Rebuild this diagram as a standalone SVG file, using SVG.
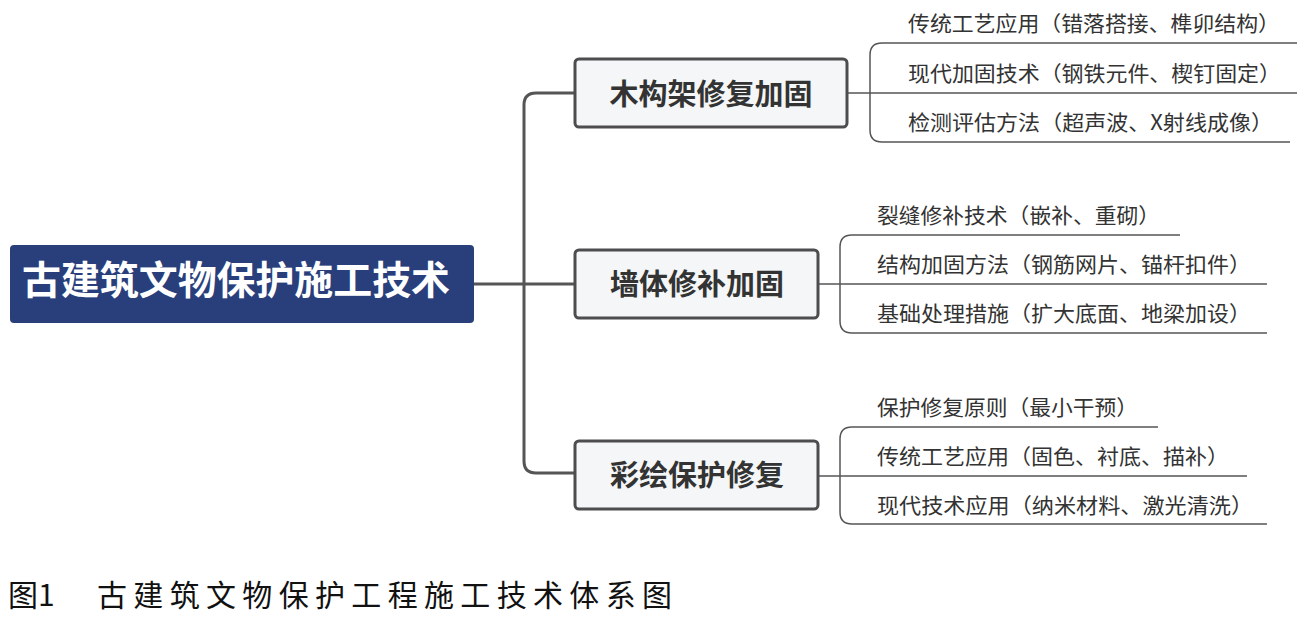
<svg xmlns="http://www.w3.org/2000/svg" width="1305" height="618" viewBox="0 0 1305 618">
<style>
.root{fill:#293f7c;}
.rootT{font-family:"Noto Sans CJK SC",sans-serif;font-weight:bold;font-size:39px;fill:#fff;text-anchor:middle;}
.box{fill:#f4f6f7;stroke:#4d4d4f;stroke-width:3;}
.boxT{font-family:"Noto Sans CJK SC",sans-serif;font-weight:bold;font-size:29px;fill:#333;text-anchor:middle;}
.leaf{font-family:"Noto Sans CJK SC",sans-serif;font-size:21px;fill:#333;}
.thick{fill:none;stroke:#555;stroke-width:3;}
.thin{fill:none;stroke:#555;stroke-width:1.5;}
.cap{font-family:"Noto Sans CJK SC",serif;font-size:30px;fill:#111;}
</style>
<rect width="1305" height="618" fill="#fff"/>
<g id="connectors">
<path class="thick" d="M474,284 H575"/>
<path class="thick" d="M575,93 H536 Q524,93 524,105 V461 Q524,473 536,473 H575"/>
<path class="thin" d="M847,93 H1297"/>
<path class="thin" d="M1297,43 H882 Q870,43 870,55 V130 Q870,142 882,142 H1290"/>
<path class="thin" d="M818,284 H1267"/>
<path class="thin" d="M1180,235 H852 Q840,235 840,247 V321 Q840,333 852,333 H1267"/>
<path class="thin" d="M818,476 H1247"/>
<path class="thin" d="M1158,427 H852 Q840,427 840,439 V512 Q840,524 852,524 H1267"/>
</g>
<g id="root">
<rect class="root" x="10" y="245" width="464" height="78" rx="4"/>
<text class="rootT" x="236" y="294" textLength="428" lengthAdjust="spacingAndGlyphs">古建筑文物保护施工技术</text>
</g>
<g id="node1">
<rect class="box" x="575" y="59" width="272" height="68" rx="4"/>
<text class="boxT" x="711" y="105">木构架修复加固</text>
</g>
<g id="node2">
<rect class="box" x="575" y="250" width="243" height="68" rx="4"/>
<text class="boxT" x="697" y="295">墙体修补加固</text>
</g>
<g id="node3">
<rect class="box" x="575" y="441" width="243" height="68" rx="4"/>
<text class="boxT" x="697" y="486">彩绘保护修复</text>
</g>
<g id="leaf1-1"><text class="leaf" x="908" y="31" textLength="372" lengthAdjust="spacingAndGlyphs">传统工艺应用（错落搭接、榫卯结构）</text></g>
<g id="leaf1-2"><text class="leaf" x="908" y="81" textLength="373" lengthAdjust="spacingAndGlyphs">现代加固技术（钢铁元件、楔钉固定）</text></g>
<g id="leaf1-3"><text class="leaf" x="908" y="130" textLength="365" lengthAdjust="spacingAndGlyphs">检测评估方法（超声波、X射线成像）</text></g>
<g id="leaf2-1"><text class="leaf" x="877" y="223" textLength="283" lengthAdjust="spacingAndGlyphs">裂缝修补技术（嵌补、重砌）</text></g>
<g id="leaf2-2"><text class="leaf" x="877" y="272" textLength="374" lengthAdjust="spacingAndGlyphs">结构加固方法（钢筋网片、锚杆扣件）</text></g>
<g id="leaf2-3"><text class="leaf" x="877" y="321" textLength="374" lengthAdjust="spacingAndGlyphs">基础处理措施（扩大底面、地梁加设）</text></g>
<g id="leaf3-1"><text class="leaf" x="877" y="415" textLength="261" lengthAdjust="spacingAndGlyphs">保护修复原则（最小干预）</text></g>
<g id="leaf3-2"><text class="leaf" x="877" y="464" textLength="352" lengthAdjust="spacingAndGlyphs">传统工艺应用（固色、衬底、描补）</text></g>
<g id="leaf3-3"><text class="leaf" x="877" y="513" textLength="376" lengthAdjust="spacingAndGlyphs">现代技术应用（纳米材料、激光清洗）</text></g>
<g id="caption">
<text class="cap" x="8" y="606">图1</text>
<text class="cap" x="97" y="606" textLength="575" lengthAdjust="spacing">古建筑文物保护工程施工技术体系图</text>
</g>
</svg>
